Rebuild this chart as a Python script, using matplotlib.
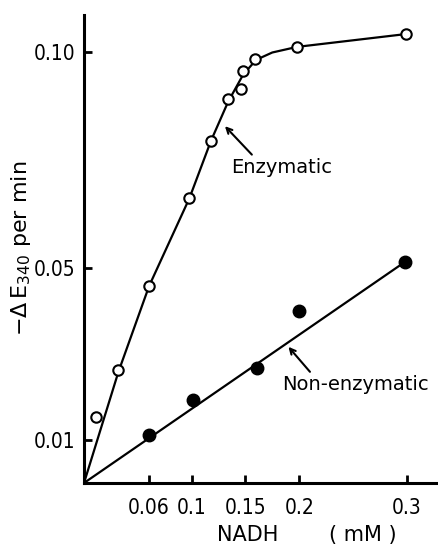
import matplotlib
matplotlib.use("Agg")
import matplotlib.pyplot as plt

# enzymatic (open circles)
enz_x = [0.011, 0.032, 0.0605, 0.098, 0.118, 0.134, 0.146, 0.148, 0.159, 0.198, 0.2995]
enz_y = [0.0153, 0.0262, 0.0457, 0.0661, 0.0794, 0.0891, 0.0914, 0.0956, 0.0984, 0.1012, 0.1042]
# hand-drawn curve through the enzymatic points
enz_curve_x = [0.0, 0.032, 0.0605, 0.098, 0.118, 0.134, 0.148, 0.16, 0.175, 0.198, 0.3]
enz_curve_y = [0.0, 0.0258, 0.0457, 0.0661, 0.0794, 0.0885, 0.0948, 0.0982, 0.0999, 0.1012, 0.1042]

# non-enzymatic (filled circles)
non_x = [0.0605, 0.1014, 0.161, 0.2, 0.2986]
non_y = [0.0111, 0.0193, 0.0267, 0.0399, 0.0513]
non_line_x = [0.0, 0.3]
non_line_y = [0.0, 0.0516]

xticks = [0.06, 0.1, 0.15, 0.2, 0.3]
xticklabels = ["0.06", "0.1", "0.15", "0.2", "0.3"]
yticks = [0.01, 0.05, 0.10]
yticklabels = ["0.01", "0.05", "0.10"]

fig = plt.figure(figsize=(4.38, 5.46), dpi=100)
ax = fig.add_axes([84 / 438, 63 / 546, 354 / 438, 468 / 546])

ax.plot(enz_curve_x, enz_curve_y, color="black", lw=1.6, zorder=2)
ax.plot(non_line_x, non_line_y, color="black", lw=1.6, zorder=2)
ax.plot(enz_x, enz_y, "o", ms=7.5, mfc="white", mec="black", mew=1.5, zorder=3)
ax.plot(non_x, non_y, "o", ms=9, mfc="black", mec="black", zorder=3)

ax.set_xlim(0, 0.329)
ax.set_ylim(0, 0.1086)

for s in ["top", "right"]:
    ax.spines[s].set_visible(False)
for s in ["left", "bottom"]:
    ax.spines[s].set_linewidth(2.2)

tfont = dict(family="DejaVu Sans", stretch="condensed", size=15)
ax.set_xticks(xticks)
ax.set_xticklabels(xticklabels, fontdict=tfont)
ax.set_yticks(yticks)
ax.set_yticklabels(yticklabels, fontdict=tfont)
ax.tick_params(axis="y", direction="in", length=6, width=2, pad=6)
ax.tick_params(axis="x", direction="in", length=6, width=2, pad=11)

# labels with their arrows
ax.annotate("", xy=(0.131, 0.0828), xytext=(0.156, 0.0762),
            arrowprops=dict(arrowstyle="->", color="black", lw=1.5, shrinkA=0, shrinkB=0))
ax.text(0.184, 0.0733, "Enzymatic", ha="center", va="center", fontsize=14)
ax.annotate("", xy=(0.190, 0.0316), xytext=(0.210, 0.0258),
            arrowprops=dict(arrowstyle="->", color="black", lw=1.5, shrinkA=0, shrinkB=0))
ax.text(0.252, 0.0228, "Non-enzymatic", ha="center", va="center", fontsize=14)

fig.text(21 / 438, 1 - 248 / 546, r"$-\Delta\,\mathrm{E}_{340}$ per min", rotation=90,
         ha="center", va="center", fontsize=16)
fig.text(248 / 438, 1 - 535 / 546, "NADH", ha="center", va="center", fontsize=15)
fig.text(363 / 438, 1 - 535 / 546, "( mM )", ha="center", va="center", fontsize=15)

fig.savefig("out.png", dpi=100)
